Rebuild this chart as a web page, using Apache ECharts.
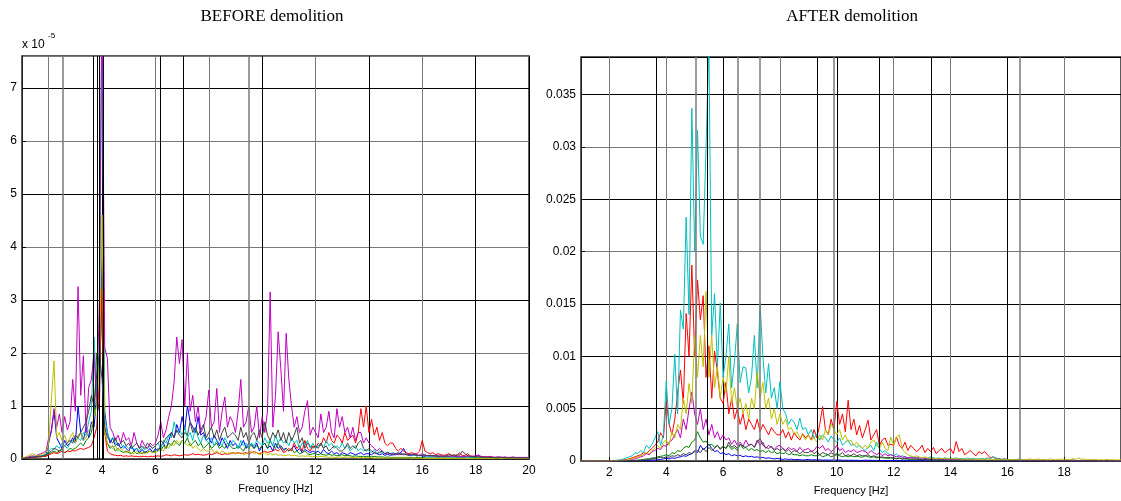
<!DOCTYPE html>
<html>
<head>
<meta charset="utf-8">
<script src="https://cdn.jsdelivr.net/npm/echarts@6/dist/echarts.min.js"></script>
<style>
  html, body { margin: 0; padding: 0; background: #fff; }
  #chart { width: 1121px; height: 501px; }
</style>
</head>
<body>
<div id="chart"></div>
<script>
// spectra, one value every 0.1 Hz from 1 Hz to 20 Hz (one row = 1 Hz)
// BEFORE: units of 1e-5
const beforeBlue = [0.02,0.02,0.03,0.03,0.04,0.05,0.06,0.05,0.07,0.08,
  0.3,0.55,0.9,0.4,0.3,0.2,0.35,0.25,0.3,0.4,
  0.3,1.0,0.5,0.35,0.6,0.4,0.7,0.6,1.2,0.9,
  4.1,0.9,0.5,0.3,0.4,0.25,0.3,0.2,0.25,0.2,
  0.15,0.25,0.15,0.2,0.12,0.18,0.12,0.15,0.2,0.12,
  0.2,0.15,0.25,0.3,0.2,0.35,0.5,0.4,0.65,0.5,
  0.8,0.55,1.0,0.7,0.6,0.5,0.8,0.45,0.5,0.35,
  0.4,0.3,0.45,0.35,0.25,0.4,0.3,0.2,0.35,0.25,
  0.3,0.2,0.25,0.35,0.2,0.3,0.25,0.2,0.3,0.15,
  0.25,0.3,0.2,0.25,0.15,0.3,0.2,0.25,0.18,0.2,
  0.15,0.2,0.25,0.15,0.2,0.12,0.18,0.15,0.12,0.15,
  0.12,0.15,0.1,0.18,0.12,0.1,0.15,0.1,0.12,0.08,
  0.12,0.1,0.08,0.12,0.1,0.08,0.1,0.12,0.08,0.1,
  0.1,0.08,0.12,0.1,0.08,0.1,0.07,0.09,0.07,0.08,
  0.08,0.1,0.12,0.2,0.1,0.08,0.07,0.08,0.06,0.07,
  0.06,0.05,0.07,0.05,0.06,0.05,0.04,0.05,0.04,0.05,
  0.05,0.04,0.05,0.04,0.04,0.03,0.04,0.06,0.03,0.04,
  0.03,0.08,0.03,0.03,0.03,0.02,0.03,0.02,0.02,0.03,
  0.02,0.02,0.02,0.02,0.02,0.02,0.02,0.02,0.02,0.02,
  0.02]
const beforeGreen = [0.01,0.01,0.02,0.02,0.03,0.03,0.04,0.04,0.05,0.06,
  0.1,0.12,0.15,0.12,0.15,0.18,0.12,0.15,0.2,0.18,
  0.2,0.25,0.3,0.25,0.35,0.4,0.5,0.8,2.0,1.5,
  3.0,0.5,0.3,0.2,0.25,0.15,0.2,0.15,0.12,0.15,
  0.12,0.1,0.15,0.1,0.12,0.1,0.14,0.12,0.15,0.12,
  0.15,0.2,0.15,0.25,0.2,0.3,0.25,0.35,0.3,0.25,
  0.35,0.3,0.4,0.25,0.3,0.35,0.25,0.3,0.2,0.25,
  0.3,0.2,0.25,0.3,0.2,0.25,0.2,0.3,0.25,0.2,
  0.2,0.25,0.2,0.15,0.25,0.2,0.3,0.2,0.25,0.2,
  0.25,0.3,0.2,0.35,0.25,0.2,0.3,0.2,0.15,0.2,
  0.15,0.2,0.12,0.15,0.1,0.12,0.15,0.1,0.08,0.1,
  0.1,0.08,0.1,0.08,0.07,0.09,0.07,0.08,0.06,0.07,
  0.08,0.06,0.07,0.06,0.05,0.06,0.05,0.05,0.04,0.05,
  0.05,0.04,0.05,0.04,0.04,0.04,0.03,0.04,0.03,0.03,
  0.03,0.03,0.03,0.03,0.03,0.03,0.03,0.02,0.03,0.02,
  0.03,0.02,0.02,0.02,0.02,0.02,0.02,0.02,0.02,0.02,
  0.02,0.02,0.02,0.02,0.02,0.02,0.02,0.02,0.02,0.02,
  0.02,0.02,0.02,0.02,0.02,0.02,0.02,0.02,0.02,0.01,
  0.01,0.01,0.01,0.01,0.01,0.01,0.01,0.01,0.01,0.01,
  0.01]
const beforeRed = [0.01,0.01,0.02,0.02,0.03,0.03,0.04,0.04,0.05,0.05,
  0.08,0.1,0.12,0.1,0.12,0.15,0.12,0.15,0.14,0.16,
  0.15,0.18,0.2,0.18,0.2,0.22,0.25,0.4,0.6,1.5,
  3.2,0.5,0.15,0.1,0.08,0.07,0.06,0.07,0.05,0.06,
  0.05,0.06,0.05,0.05,0.04,0.05,0.05,0.04,0.05,0.05,
  0.05,0.06,0.05,0.06,0.08,0.07,0.06,0.08,0.07,0.06,
  0.07,0.08,0.07,0.08,0.1,0.08,0.09,0.08,0.07,0.08,
  0.1,0.08,0.1,0.12,0.1,0.08,0.1,0.09,0.1,0.12,
  0.1,0.12,0.1,0.11,0.12,0.1,0.12,0.14,0.12,0.1,
  0.12,0.15,0.12,0.14,0.15,0.18,0.15,0.2,0.12,0.15,
  0.2,0.15,0.3,0.2,0.25,0.15,0.35,0.2,0.15,0.25,
  0.2,0.3,0.25,0.4,0.3,0.5,0.35,0.3,0.45,0.4,
  0.3,0.5,0.35,0.4,0.45,0.3,0.5,0.95,0.6,1.0,
  0.5,0.75,0.45,0.6,0.35,0.5,0.3,0.25,0.3,0.3,
  0.2,0.15,0.2,0.15,0.12,0.1,0.12,0.1,0.1,0.15,
  0.35,0.15,0.12,0.1,0.12,0.08,0.1,0.08,0.07,0.08,
  0.1,0.07,0.08,0.06,0.12,0.06,0.07,0.1,0.06,0.05,
  0.05,0.04,0.05,0.04,0.04,0.03,0.04,0.03,0.03,0.03,
  0.03,0.03,0.02,0.03,0.02,0.02,0.03,0.02,0.02,0.02,
  0.02]
const beforeCyan = [0.02,0.02,0.03,0.03,0.04,0.05,0.05,0.06,0.07,0.08,
  0.15,0.2,0.18,0.25,0.2,0.3,0.25,0.2,0.3,0.35,
  0.3,0.4,0.35,0.5,0.45,0.7,0.9,2.3,1.2,2.0,
  9.0,0.8,0.5,0.35,0.4,0.3,0.25,0.3,0.2,0.25,
  0.2,0.25,0.18,0.2,0.15,0.22,0.18,0.2,0.25,0.2,
  0.25,0.3,0.2,0.35,0.3,0.45,0.4,0.7,0.5,0.55,
  0.45,0.6,0.4,0.5,0.35,0.6,0.4,0.3,0.45,0.35,
  0.3,0.4,0.25,0.35,0.3,0.25,0.4,0.3,0.25,0.35,
  0.3,0.2,0.35,0.25,0.3,0.2,0.3,0.25,0.35,0.3,
  0.25,0.4,0.3,0.35,0.25,0.45,0.3,0.4,0.3,0.35,
  0.25,0.4,0.3,0.35,0.2,0.3,0.25,0.35,0.2,0.3,
  0.2,0.25,0.3,0.2,0.35,0.25,0.3,0.2,0.25,0.2,
  0.3,0.2,0.25,0.15,0.2,0.25,0.15,0.2,0.15,0.18,
  0.15,0.12,0.18,0.1,0.15,0.12,0.1,0.13,0.1,0.12,
  0.1,0.09,0.1,0.08,0.1,0.07,0.08,0.07,0.06,0.07,
  0.06,0.07,0.05,0.06,0.05,0.05,0.06,0.04,0.05,0.04,
  0.04,0.05,0.04,0.04,0.03,0.04,0.03,0.04,0.03,0.03,
  0.03,0.04,0.03,0.03,0.03,0.03,0.02,0.03,0.02,0.03,
  0.02,0.03,0.02,0.02,0.02,0.02,0.02,0.02,0.02,0.02,
  0.02]
const beforeMagenta = [0.02,0.03,0.03,0.05,0.06,0.05,0.08,0.1,0.12,0.15,
  0.4,0.5,0.95,0.6,0.85,0.5,0.8,0.55,0.7,1.5,
  0.9,3.25,1.2,1.95,0.5,1.35,1.5,2.0,1.0,3.0,
  9.0,2.1,1.9,0.6,0.5,0.35,0.45,0.3,0.5,0.35,
  0.4,0.25,0.5,0.3,0.2,0.35,0.25,0.2,0.3,0.25,
  0.3,0.45,0.7,0.4,0.55,0.8,1.0,1.45,2.3,1.8,
  2.25,1.0,2.0,0.9,1.2,0.7,1.0,0.5,0.6,0.8,
  1.3,0.6,0.7,1.33,0.5,0.9,1.17,0.6,0.8,0.7,
  0.5,0.9,1.5,0.6,0.7,1.0,0.5,0.6,1.0,0.4,
  0.8,0.5,0.9,3.15,0.6,1.2,2.4,1.7,0.9,2.37,
  1.5,1.0,0.6,0.8,0.5,0.6,0.9,1.1,0.45,0.6,
  0.5,0.4,0.85,0.5,0.6,0.9,0.5,0.4,0.95,0.6,
  0.8,0.5,0.6,0.4,0.6,0.35,0.5,0.5,0.3,0.4,
  0.3,0.25,0.2,0.15,0.2,0.15,0.1,0.12,0.1,0.1,
  0.1,0.08,0.1,0.08,0.09,0.07,0.08,0.1,0.08,0.07,
  0.1,0.07,0.06,0.07,0.06,0.05,0.06,0.05,0.06,0.05,
  0.05,0.06,0.05,0.04,0.05,0.05,0.04,0.06,0.05,0.05,
  0.06,0.07,0.05,0.04,0.04,0.05,0.04,0.03,0.04,0.04,
  0.03,0.04,0.03,0.03,0.04,0.03,0.03,0.03,0.03,0.03,
  0.03]
const beforeYellow = [0.02,0.03,0.05,0.08,0.1,0.08,0.06,0.08,0.1,0.12,
  0.3,1.1,1.85,0.4,0.5,0.35,0.45,0.3,0.4,0.5,
  0.3,0.45,0.5,0.35,0.4,0.55,0.6,0.8,1.0,1.8,
  4.6,0.5,0.3,0.25,0.2,0.25,0.15,0.2,0.15,0.12,
  0.15,0.12,0.1,0.15,0.1,0.12,0.1,0.12,0.15,0.12,
  0.12,0.15,0.2,0.15,0.25,0.2,0.3,0.25,0.35,0.3,
  0.35,0.3,0.25,0.3,0.2,0.25,0.2,0.15,0.2,0.15,
  0.15,0.2,0.12,0.15,0.1,0.15,0.12,0.1,0.12,0.1,
  0.12,0.1,0.12,0.08,0.1,0.12,0.15,0.1,0.12,0.08,
  0.1,0.12,0.08,0.1,0.08,0.1,0.07,0.08,0.06,0.07,
  0.08,0.06,0.07,0.06,0.05,0.06,0.05,0.06,0.05,0.04,
  0.05,0.04,0.05,0.04,0.04,0.03,0.04,0.03,0.03,0.04,
  0.03,0.03,0.04,0.03,0.03,0.03,0.02,0.03,0.02,0.03,
  0.02,0.03,0.02,0.02,0.02,0.02,0.02,0.02,0.02,0.02,
  0.02,0.02,0.02,0.02,0.02,0.02,0.01,0.02,0.01,0.02,
  0.01,0.01,0.01,0.01,0.01,0.01,0.01,0.01,0.01,0.01,
  0.01,0.01,0.01,0.01,0.01,0.01,0.01,0.01,0.01,0.01,
  0.01,0.01,0.01,0.01,0.01,0.01,0.01,0.01,0.01,0.01,
  0.01,0.01,0.01,0.01,0.01,0.01,0.01,0.01,0.01,0.01,
  0.01]
const beforeBlack = [0.01,0.02,0.02,0.03,0.03,0.04,0.05,0.05,0.06,0.08,
  0.12,0.15,0.2,0.18,0.15,0.2,0.25,0.3,0.35,0.3,
  0.45,0.4,0.5,0.6,0.7,0.9,1.2,1.0,1.6,2.0,
  1.5,0.6,0.4,0.35,0.3,0.4,0.25,0.3,0.35,0.25,
  0.3,0.2,0.25,0.3,0.2,0.25,0.2,0.3,0.25,0.2,
  0.25,0.3,0.35,0.3,0.4,0.45,0.5,0.4,0.55,0.45,
  0.4,0.5,0.45,0.7,0.5,0.6,0.45,0.55,0.65,0.4,
  0.5,0.6,0.4,0.55,0.35,0.5,0.6,0.4,0.45,0.5,
  0.45,0.35,0.6,0.4,0.5,0.3,0.45,0.5,0.35,0.55,
  0.4,0.7,0.45,0.35,0.5,0.4,0.55,0.35,0.5,0.3,
  0.5,0.35,0.45,0.6,0.3,0.4,0.2,0.3,0.25,0.2,
  0.25,0.2,0.3,0.2,0.25,0.15,0.2,0.25,0.2,0.15,
  0.15,0.2,0.3,0.2,0.25,0.2,0.3,0.35,0.2,0.15,
  0.2,0.15,0.12,0.1,0.12,0.15,0.1,0.12,0.1,0.08,
  0.1,0.12,0.08,0.1,0.08,0.07,0.09,0.08,0.07,0.06,
  0.07,0.08,0.06,0.07,0.06,0.07,0.05,0.06,0.05,0.06,
  0.08,0.07,0.06,0.08,0.07,0.15,0.1,0.06,0.05,0.04,
  0.04,0.04,0.03,0.04,0.03,0.03,0.03,0.03,0.02,0.03,
  0.03,0.02,0.02,0.02,0.02,0.02,0.02,0.02,0.02,0.02,
  0.02]

// AFTER: units of 1e-3
const afterBlue = [0,0,0,0,0,0,0,0,0,0,
  0,0,0,0,0,0,0.01,0.01,0.02,0.02,
  0.03,0.04,0.05,0.06,0.08,0.1,0.1,0.12,0.15,0.2,
  0.25,0.2,0.3,0.25,0.35,0.4,0.5,0.45,0.6,0.7,
  1.0,0.8,1.5,1.1,1.3,1.6,1.2,0.9,1.0,0.7,
  0.8,0.6,0.7,0.5,0.6,0.5,0.55,0.4,0.5,0.4,
  0.45,0.35,0.4,0.3,0.35,0.25,0.3,0.25,0.2,0.25,
  0.2,0.15,0.2,0.15,0.18,0.12,0.15,0.12,0.1,0.12,
  0.15,0.1,0.12,0.1,0.12,0.08,0.1,0.09,0.08,0.1,
  0.08,0.1,0.07,0.08,0.06,0.08,0.06,0.07,0.05,0.06,
  0.08,0.06,0.07,0.05,0.06,0.05,0.05,0.04,0.05,0.04,
  0.04,0.03,0.04,0.03,0.03,0.03,0.03,0.03,0.02,0.03,
  0.02,0.02,0.02,0.02,0.02,0.02,0.02,0.02,0.02,0.02,
  0.02,0.02,0.02,0.02,0.02,0.02,0.02,0.02,0.02,0.02,
  0.02,0.02,0.02,0.02,0.01,0.02,0.01,0.01,0.01,0.01,
  0.01,0.01,0.01,0.01,0.01,0.01,0.01,0.01,0.01,0.01,
  0.01,0.01,0.01,0.01,0.01,0.01,0.01,0.01,0.01,0.01,
  0.01,0.01,0.01,0.01,0.01,0.01,0.01,0.01,0.01,0.01,
  0.01,0.01,0.01,0.01,0.01,0.01,0.01,0.01,0.01,0.01,
  0.01]
const afterGreen = [0,0,0,0,0,0,0,0,0,0,
  0,0,0,0,0.01,0.01,0.02,0.02,0.03,0.05,
  0.08,0.1,0.15,0.2,0.2,0.3,0.3,0.4,0.45,0.5,
  0.6,0.5,0.8,0.7,1.0,0.9,1.2,1.4,1.3,1.8,
  2.0,2.8,2.2,1.8,1.9,1.5,1.6,1.3,1.5,1.2,
  1.4,1.2,1.5,1.1,1.3,1.0,1.6,1.2,1.3,1.0,
  1.2,1.0,1.1,0.9,1.0,0.8,1.0,0.8,0.9,0.7,
  0.8,0.7,0.8,0.6,0.7,0.6,0.6,0.5,0.6,0.5,
  0.5,0.6,0.5,0.5,0.6,0.4,0.5,0.6,0.4,0.5,
  0.6,0.5,0.4,0.5,0.4,0.5,0.4,0.45,0.4,0.35,
  0.5,0.4,0.35,0.4,0.3,0.35,0.3,0.3,0.25,0.3,
  0.25,0.2,0.25,0.2,0.2,0.18,0.15,0.18,0.15,0.12,
  0.15,0.12,0.1,0.12,0.1,0.1,0.08,0.1,0.08,0.07,
  0.07,0.06,0.07,0.06,0.05,0.06,0.05,0.05,0.04,0.05,
  0.04,0.04,0.04,0.04,0.04,0.03,0.04,0.03,0.03,0.03,
  0.03,0.03,0.03,0.03,0.03,0.03,0.03,0.03,0.03,0.03,
  0.03,0.02,0.02,0.02,0.02,0.02,0.02,0.02,0.02,0.02,
  0.02,0.02,0.02,0.02,0.02,0.02,0.02,0.02,0.02,0.02,
  0.02,0.02,0.01,0.01,0.01,0.01,0.01,0.01,0.01,0.01,
  0.01]
const afterRed = [0,0,0,0,0,0,0,0,0,0,
  0.01,0.02,0.03,0.05,0.08,0.1,0.15,0.2,0.3,0.4,
  0.5,0.6,0.8,0.7,1.0,1.2,1.5,1.8,2.7,2.2,
  5.7,3.5,2.5,4.0,6.5,8.7,5.5,14.1,10.0,18.7,
  10.0,17.3,13.5,15.8,8.0,11.0,6.0,10.5,8.5,6.0,
  5.5,7.5,4.5,6.0,4.0,5.0,3.5,4.5,3.0,4.0,
  3.5,3.0,4.0,2.8,3.5,3.0,2.5,3.2,2.8,2.5,
  2.5,3.0,2.2,2.8,2.0,2.7,2.3,2.0,2.6,2.2,
  2.5,2.0,3.0,2.2,3.5,5.2,3.0,2.5,4.0,3.0,
  5.7,3.5,4.5,2.8,5.8,3.0,4.0,2.5,3.4,2.2,
  3.0,3.9,2.0,2.5,3.0,1.5,2.0,2.2,1.5,1.6,
  1.5,2.3,1.5,1.2,1.8,1.0,1.5,1.2,0.9,1.1,
  1.5,0.8,1.2,0.9,1.3,0.7,1.0,1.2,0.8,1.0,
  1.2,0.7,1.85,0.9,1.2,0.6,0.8,1.0,0.7,0.5,
  0.9,0.7,0.9,0.6,0.3,0.4,0.2,0.25,0.15,0.2,
  0.15,0.12,0.1,0.12,0.1,0.08,0.1,0.08,0.07,0.08,
  0.06,0.07,0.05,0.06,0.05,0.04,0.05,0.04,0.04,0.03,
  0.03,0.04,0.03,0.03,0.03,0.02,0.03,0.02,0.02,0.02,
  0.02,0.02,0.02,0.02,0.02,0.01,0.02,0.01,0.01,0.01,
  0.01]
const afterCyan = [0,0,0,0,0,0,0,0,0,0,
  0.02,0.03,0.05,0.08,0.1,0.2,0.3,0.4,0.5,0.8,
  0.7,1.0,0.8,1.5,1.2,1.6,2.2,2.8,1.5,2.5,
  7.6,3.5,5.0,10.2,4.5,14.4,12.6,23.3,14.0,33.7,
  20.0,31.6,21.5,20.7,30.0,40.0,12.0,16.0,9.0,15.1,
  8.0,10.0,13.1,7.0,9.5,13.1,7.5,9.0,8.9,6.5,
  8.0,12.0,7.0,15.1,10.0,6.5,9.3,6.0,7.0,5.0,
  7.6,5.0,4.5,3.5,4.0,3.7,3.0,4.1,3.0,3.2,
  2.5,3.0,2.2,2.6,2.0,2.5,2.2,1.8,2.4,2.0,
  1.8,2.2,1.5,1.8,2.0,1.5,1.6,1.3,1.5,1.2,
  1.0,1.3,1.5,1.0,1.8,1.2,0.8,1.0,0.7,0.6,
  0.5,0.7,0.4,0.5,0.4,0.3,0.4,0.3,0.35,0.3,
  0.3,0.25,0.3,0.4,0.3,0.25,0.3,0.2,0.3,0.25,
  0.2,0.25,0.3,0.2,0.25,0.2,0.3,0.2,0.25,0.2,
  0.2,0.25,0.2,0.3,0.2,0.4,0.3,0.2,0.15,0.2,
  0.15,0.12,0.1,0.12,0.1,0.1,0.08,0.1,0.08,0.07,
  0.07,0.06,0.07,0.06,0.05,0.06,0.05,0.05,0.05,0.04,
  0.04,0.05,0.04,0.04,0.03,0.04,0.03,0.03,0.03,0.03,
  0.03,0.03,0.02,0.03,0.02,0.02,0.02,0.02,0.02,0.02,
  0.02]
const afterMagenta = [0,0,0,0,0,0,0,0,0,0,
  0,0.01,0.02,0.03,0.05,0.06,0.08,0.1,0.15,0.2,
  0.3,0.4,0.5,0.7,0.6,0.9,1.0,1.2,1.1,1.5,
  1.4,1.8,2.0,2.5,3.0,2.2,4.0,3.0,5.0,6.6,
  4.5,3.5,5.0,3.0,4.0,2.5,3.5,2.2,2.8,2.0,
  2.5,2.0,2.2,1.6,2.0,1.5,1.8,1.4,2.0,1.5,
  1.6,1.3,2.0,1.5,1.8,1.2,1.5,1.3,1.1,1.4,
  1.5,1.2,1.0,1.3,1.1,1.2,0.9,1.3,1.0,1.1,
  1.2,0.9,1.0,1.4,1.2,1.5,1.0,1.2,0.9,1.1,
  1.5,1.0,1.2,0.8,1.0,0.9,1.1,0.8,0.9,1.0,
  0.9,0.7,1.0,0.8,0.6,0.8,0.5,0.7,0.5,0.6,
  0.5,0.4,0.5,0.35,0.4,0.3,0.35,0.3,0.3,0.25,
  0.3,0.25,0.2,0.25,0.2,0.18,0.2,0.15,0.18,0.15,
  0.15,0.12,0.15,0.12,0.1,0.12,0.1,0.12,0.1,0.08,
  0.1,0.08,0.1,0.08,0.07,0.08,0.07,0.08,0.07,0.06,
  0.07,0.06,0.07,0.06,0.05,0.06,0.05,0.06,0.05,0.05,
  0.06,0.05,0.05,0.06,0.05,0.05,0.06,0.05,0.05,0.05,
  0.05,0.08,0.05,0.1,0.05,0.05,0.06,0.05,0.05,0.04,
  0.05,0.04,0.04,0.05,0.04,0.04,0.05,0.04,0.04,0.04,
  0.04]
const afterYellow = [0,0,0,0,0,0,0,0,0,0,
  0.01,0.02,0.02,0.03,0.05,0.08,0.1,0.15,0.2,0.3,
  0.4,0.5,0.6,0.8,0.7,1.0,1.2,1.5,1.2,1.8,
  2.0,1.5,2.8,2.2,3.5,3.0,6.0,4.5,7.4,5.5,
  12.0,8.0,12.0,9.0,16.2,8.0,12.0,7.0,9.0,6.0,
  8.0,6.5,10.0,5.5,7.0,5.0,6.0,4.5,5.5,4.0,
  6.0,5.0,8.5,6.0,7.5,5.0,6.0,4.0,5.0,3.5,
  4.5,3.5,4.0,3.0,3.2,2.5,2.8,2.2,2.5,2.0,
  2.5,2.0,2.2,1.8,2.5,2.0,3.0,2.5,3.5,3.0,
  2.5,3.0,2.0,2.5,1.8,2.0,1.5,1.8,1.4,1.2,
  1.5,1.2,1.8,2.0,1.5,1.2,1.8,1.2,1.0,2.3,
  1.5,2.3,2.5,1.2,0.8,0.6,0.5,0.4,0.5,0.4,
  0.3,0.4,0.3,0.25,0.3,0.2,0.25,0.2,0.3,0.2,
  0.2,0.25,0.2,0.2,0.15,0.2,0.15,0.2,0.15,0.2,
  0.15,0.2,0.15,0.2,0.15,0.12,0.15,0.12,0.1,0.12,
  0.1,0.12,0.15,0.1,0.2,0.12,0.1,0.15,0.2,0.12,
  0.15,0.2,0.12,0.15,0.1,0.2,0.15,0.12,0.18,0.15,
  0.2,0.15,0.12,0.25,0.15,0.3,0.15,0.2,0.12,0.15,
  0.12,0.15,0.1,0.12,0.1,0.15,0.1,0.12,0.1,0.1,
  0.1]
const afterBlack = [0,0,0,0,0,0,0,0,0,0,
  0,0,0,0.01,0.01,0.02,0.02,0.03,0.04,0.05,
  0.06,0.08,0.1,0.12,0.15,0.2,0.25,0.3,0.35,0.3,
  0.4,0.35,0.5,0.45,0.6,0.5,0.7,0.6,0.8,0.7,
  0.9,1.0,0.8,1.2,0.9,1.3,1.0,1.2,1.5,1.1,
  1.4,1.2,1.8,1.3,1.5,1.2,1.6,1.4,1.3,1.5,
  1.6,1.3,1.8,2.2,1.5,1.3,1.2,1.4,1.0,1.2,
  1.0,1.2,0.9,1.1,0.8,1.0,0.9,0.7,0.9,0.8,
  0.8,1.0,0.7,0.9,0.6,0.8,0.7,0.6,0.8,0.6,
  0.7,0.6,0.8,0.5,0.6,0.5,0.7,0.5,0.6,0.5,
  0.5,0.6,0.4,0.5,0.4,0.35,0.4,0.3,0.35,0.3,
  0.3,0.25,0.3,0.2,0.25,0.2,0.2,0.18,0.2,0.15,
  0.15,0.15,0.12,0.14,0.12,0.1,0.12,0.1,0.1,0.08,
  0.08,0.08,0.07,0.08,0.07,0.06,0.07,0.06,0.06,0.05,
  0.05,0.05,0.05,0.05,0.04,0.05,0.04,0.04,0.04,0.03,
  0.03,0.04,0.03,0.03,0.03,0.03,0.03,0.03,0.02,0.03,
  0.02,0.03,0.02,0.02,0.02,0.02,0.02,0.02,0.02,0.02,
  0.02,0.02,0.02,0.02,0.02,0.02,0.02,0.02,0.02,0.02,
  0.02,0.02,0.01,0.01,0.01,0.01,0.01,0.01,0.01,0.01,
  0.01]

// vertical marker lines [Hz]
const modesBeforeDark = [3.66, 3.81, 3.9, 4.06, 6.18, 7.03]
const modesBeforeLight = [2.53, 9.51]
const modesAfterDark = [3.65, 5.45, 9.32, 11.49, 13.34]
const modesAfterLight = [5.02, 6.5, 7.29, 9.88, 16.43]

const FREQ_START = 1
const FREQ_STEP = 0.1

function toPairs(values) {
  return values.map((v, i) => [+(FREQ_START + i * FREQ_STEP).toFixed(2), v])
}

const chart = echarts.init(document.getElementById('chart'))

const dark = '#000'
const grey = '#7a7a7a'
const sans = 'Liberation Sans'

function curve(values, color, idx) {
  return {
    type: 'line',
    xAxisIndex: idx,
    yAxisIndex: idx,
    data: toPairs(values),
    symbol: 'none',
    showSymbol: false,
    animation: false,
    silent: true,
    lineStyle: { color: color, width: 1 },
    itemStyle: { color: color }
  }
}

function modeLines(darkList, lightList, idx) {
  const data = darkList.map(f => ({ xAxis: f, lineStyle: { color: dark, width: 1, type: 'solid' } }))
    .concat(lightList.map(f => ({ xAxis: f, lineStyle: { color: grey, width: 1.5, type: 'solid' } })))
  return {
    type: 'line',
    xAxisIndex: idx,
    yAxisIndex: idx,
    data: [],
    animation: false,
    silent: true,
    markLine: {
      silent: true,
      animation: false,
      symbol: ['none', 'none'],
      label: { show: false },
      data: data
    }
  }
}

// MATLAB default colour order b g r c m y k
const cb = '#0000ff', cg = '#008000', cr = '#ff0000', cc = '#00bfbf', cm = '#bf00bf', cy = '#bfbf00', ck = '#404040'

function xAxisCfg(idx, splitColors, hideMax) {
  return {
    type: 'value',
    gridIndex: idx,
    min: 1,
    max: 20,
    splitNumber: 10,
    axisLine: { show: true, lineStyle: { color: '#222', width: 1 } },
    axisTick: { show: true, inside: true, length: 4, lineStyle: { color: '#000' } },
    axisLabel: { color: '#000', fontFamily: sans, fontSize: 12, margin: 6, showMinLabel: false, showMaxLabel: !hideMax },
    splitLine: { show: true, lineStyle: { color: splitColors, width: 1 } },
    name: 'Frequency [Hz]',
    nameLocation: 'middle',
    nameGap: 24,
    nameTextStyle: { color: '#000', fontFamily: sans, fontSize: 11 }
  }
}

const option = {
  backgroundColor: '#fff',
  animation: false,
  grid: [
    { left: 22, top: 56, width: 507, height: 403, show: true, borderColor: '#262626', borderWidth: 1.5 },
    { left: 581, top: 57, width: 543, height: 404, show: true, borderColor: '#262626', borderWidth: 1.5 }
  ],
  xAxis: [
    xAxisCfg(0, [dark, grey, dark, grey, grey, dark, grey, dark, grey, dark, dark], false),
    xAxisCfg(1, [dark, grey, grey, dark, grey, dark, grey, grey, dark, grey, dark], true)
  ],
  yAxis: [
    {
      type: 'value',
      gridIndex: 0,
      min: 0,
      max: 7.6,
      interval: 1,
      axisLine: { show: true, lineStyle: { color: '#222', width: 1 } },
      axisTick: { show: true, inside: true, length: 4, lineStyle: { color: '#000' } },
      axisLabel: { color: '#000', fontFamily: sans, fontSize: 12, margin: 5, showMaxLabel: false },
      splitLine: { show: true, lineStyle: { color: [grey, dark], width: 1 } }
    },
    {
      type: 'value',
      gridIndex: 1,
      min: 0,
      max: 38.6,
      interval: 5,
      axisLine: { show: true, lineStyle: { color: '#222', width: 1 } },
      axisTick: { show: true, inside: true, length: 4, lineStyle: { color: '#000' } },
      axisLabel: {
        color: '#000', fontFamily: sans, fontSize: 12, margin: 5, showMaxLabel: false,
        formatter: v => (v === 0 ? '0' : String(+(v / 1000).toFixed(4)))
      },
      splitLine: { show: true, lineStyle: { color: [dark, dark, dark, dark, grey, dark, grey, dark, dark], width: 1 } }
    }
  ],
  graphic: [
    { type: 'text', x: 272, y: 17, style: { text: 'BEFORE demolition', font: '17px "Liberation Serif"', fill: '#000', align: 'center', verticalAlign: 'middle' } },
    { type: 'text', x: 852, y: 17, style: { text: 'AFTER demolition', font: '17px "Liberation Serif"', fill: '#000', align: 'center', verticalAlign: 'middle' } },
    { type: 'text', x: 22, y: 39, style: { text: 'x 10', font: '12px "Liberation Sans"', fill: '#000', verticalAlign: 'top' } },
    { type: 'text', x: 48, y: 32, style: { text: '-5', font: '8px "Liberation Sans"', fill: '#000', verticalAlign: 'top' } }
  ],
  series: [
    curve(beforeBlue, cb, 0),
    curve(beforeGreen, cg, 0),
    curve(beforeRed, cr, 0),
    curve(beforeCyan, cc, 0),
    curve(beforeMagenta, cm, 0),
    curve(beforeYellow, cy, 0),
    curve(beforeBlack, ck, 0),
    modeLines(modesBeforeDark, modesBeforeLight, 0),

    curve(afterBlue, cb, 1),
    curve(afterGreen, cg, 1),
    curve(afterRed, cr, 1),
    curve(afterCyan, cc, 1),
    curve(afterMagenta, cm, 1),
    curve(afterYellow, cy, 1),
    curve(afterBlack, ck, 1),
    modeLines(modesAfterDark, modesAfterLight, 1)
  ]
}

chart.setOption(option)
</script>
</body>
</html>
